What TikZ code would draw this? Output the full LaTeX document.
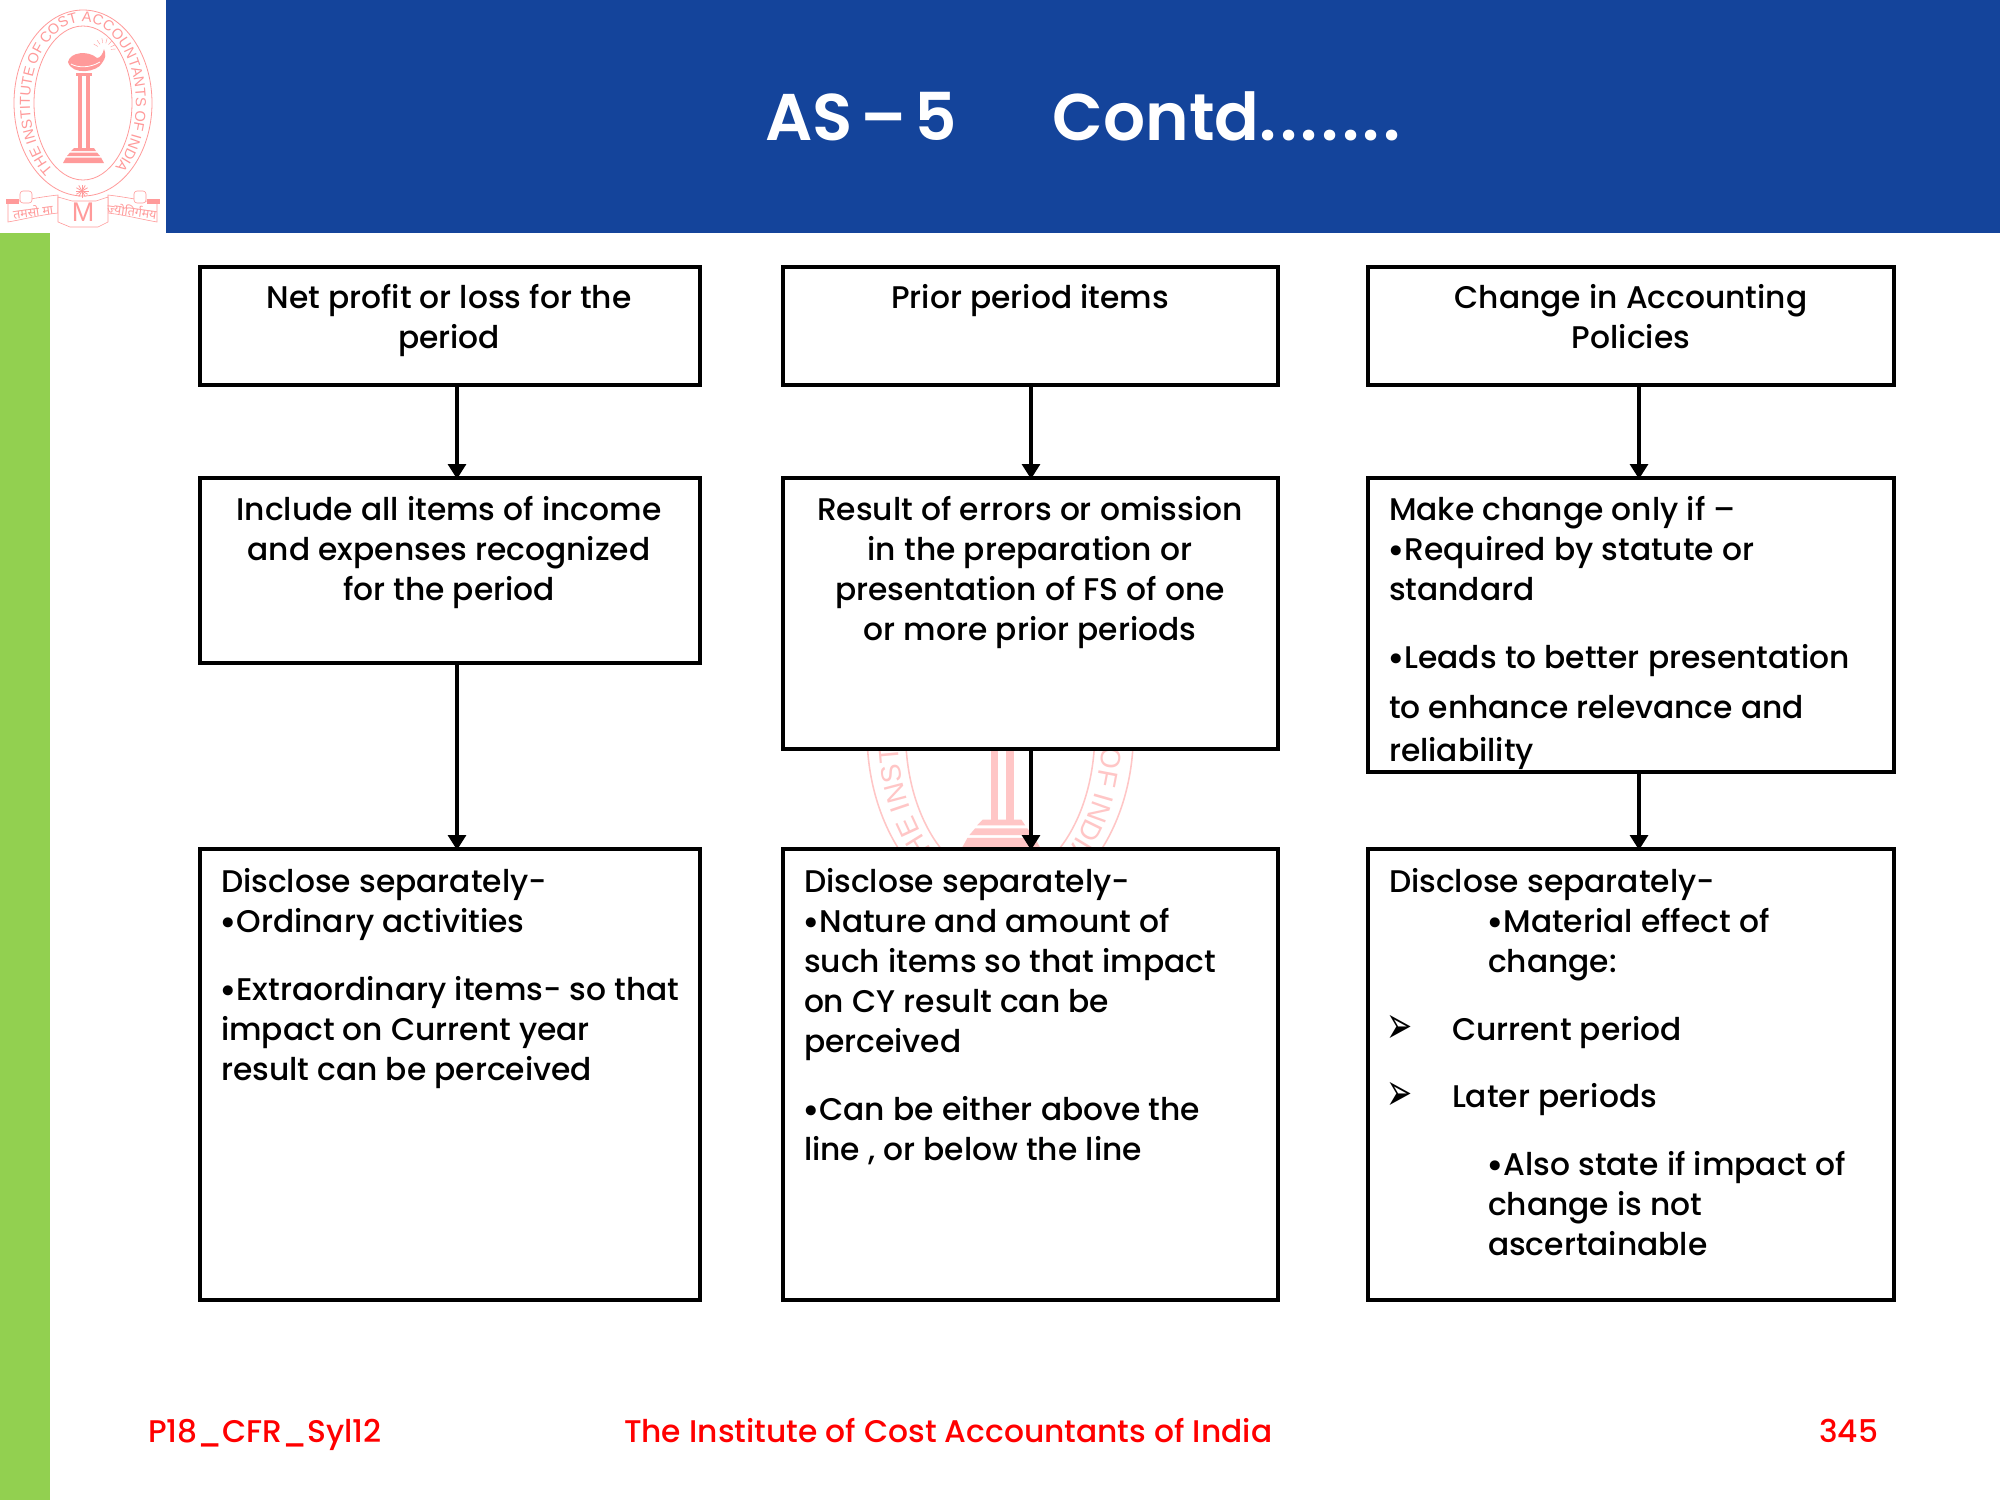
\documentclass[tikz,border=0pt]{standalone}
\usepackage{fontspec}
\usetikzlibrary{arrows.meta}
\setmainfont{Poppins Medium}
\newfontfamily\titlefont{Poppins SemiBold}
\newfontfamily\logosans{Liberation Sans}
\newfontfamily\devfont[Script=Devanagari]{Noto Sans}
\newfontfamily\dejavu{DejaVu Sans}
\definecolor{bluebar}{HTML}{14449B}
\definecolor{greenbar}{HTML}{92D050}
\definecolor{logored}{HTML}{FF9A9A}
\definecolor{wmred}{HTML}{FFC6C6}
\newcommand{\bodyfont}{\fontsize{31.3}{40}\selectfont}
\newcommand{\fl}{\rule{0pt}{28pt}}
\newcommand{\bul}{\makebox[15.5pt][l]{\fontsize{38}{38}\selectfont\raisebox{-3pt}{\hspace*{-2pt}•}}}
\newcommand{\td}{\hspace{3.5pt}.}
\tikzset{
  x=1pt,y=-1pt,
  boxn/.style={draw=black,line width=3.6pt,fill=white,inner sep=0pt,outer sep=0pt},
  arr/.style={line width=3.2pt,-{Triangle[width=18pt,length=15pt]},shorten >=-1pt},
  txt/.style={inner sep=0pt,outer sep=0pt,font=\bodyfont,text=black},
  ctext/.style={txt,anchor=north,align=center},
  ltext/.style={txt,anchor=north west,align=left},
  foot/.style={inner sep=0pt,outer sep=0pt,anchor=base west,text=red,font=\fontsize{31.3}{36}\selectfont},
  glyph/.style={inner sep=0pt,outer sep=0pt,font=\dejavu\fontsize{24}{30}\selectfont},
}
\newcommand{\bx}[5]{\node[boxn,minimum width={#4-#2},minimum height={#5-#3}] (#1) at ({(#2+#4)/2},{(#3+#5)/2}) {};}
\newcommand{\drawlogo}[6]{%
 \begin{scope}[shift={(#2,#3)},scale=#4,transform shape]
  \draw[#5,line width={0.8pt*#4},fill=white] (83,103) ellipse [x radius=69,y radius=93];
  \draw[#5,line width={0.8pt*#4}] (83,103) ellipse [x radius=49,y radius=77];
  \gdef\logoth{124}%
  \foreach \c/\w [count=\i] in {T/611,H/722,E/667,~/240,I/278,N/722,S/667,T/611,I/278,T/611,U/722,T/611,E/667,~/240,O/778,F/611,~/240,C/722,O/778,S/667,T/611,~/240,A/667,C/722,C/722,O/778,U/722,N/722,T/611,A/667,N/722,T/611,S/667,~/240,O/778,F/611,~/240,I/278,N/722,D/722,I/278,A/667}{%
    \pgfmathsetmacro\st{\w*#6/2000}%
    \pgfmathsetmacro\vx{-53*sin(\logoth)}%
    \pgfmathsetmacro\vy{81*cos(\logoth)}%
    \pgfmathsetmacro\nx{\logoth+\st*57.3/sqrt(\vx*\vx+\vy*\vy)}%
    \xdef\logoth{\nx}%
    \pgfmathsetmacro\vx{-53*sin(\logoth)}%
    \pgfmathsetmacro\vy{81*cos(\logoth)}%
    \pgfmathsetmacro\rot{atan2(-\vy,\vx)}%
    \node[inner sep=0pt,anchor=base,text=#5,rotate=\rot,font=\logosans\fontsize{#6}{#6}\selectfont] (logoch#1\i) at ({83+53*cos(\logoth)},{103+81*sin(\logoth)}) {\c};
    \pgfmathsetmacro\nx{\logoth+\st*57.3/sqrt(\vx*\vx+\vy*\vy)}%
    \xdef\logoth{\nx}%
  }
  % lamp
  \fill[#5] (68,62) .. controls (70,52) and (88,50) .. (97,58) .. controls (100,58) and (103,54) .. (104,49)
    .. controls (106,54) and (106,58) .. (102,63) .. controls (98,72) and (72,76) .. (68,62) -- cycle;
  \draw[white,line width=0.8pt] (71,64) .. controls (78,68) and (90,68) .. (100,62);
  \foreach \a in {-150,-125,-100,-75,-50,-25,-5}
    \draw[#5,line width=0.4pt] ({104+7*cos(\a)},{50+7*sin(\a)}) -- ({104+12*cos(\a)},{50+12*sin(\a)});
  % pillar
  \fill[#5] (76,73) rectangle (92,76);
  \fill[#5] (78,76) rectangle (82,148);
  \fill[#5] (86,76) rectangle (90,148);
  \fill[#5] (74,148) -- (94,148) -- (96,151) -- (71,151) -- cycle;
  \fill[#5] (70,152.5) -- (97,152.5) -- (100,156) -- (67,156) -- cycle;
  \fill[#5] (66,157.5) -- (101,157.5) -- (104,163) -- (63,163) -- cycle;
  % star
  \foreach \a in {0,30,...,330}
    \draw[#5,line width=0.8pt] (82,191) -- ++({6.5*cos(\a)},{6.5*sin(\a)});
  % ribbons
  \draw[#5,line width=0.6pt,fill=white] (58,195) .. controls (40,197) and (25,200) .. (8,203) -- (8,222)
    .. controls (25,219) and (40,215) .. (58,213) -- cycle;
  \draw[#5,line width=0.6pt,fill=white] (108,195) .. controls (125,197) and (140,200) .. (157,203) -- (157,222)
    .. controls (140,219) and (125,215) .. (108,213) -- cycle;
  \fill[#5] (6,199) rectangle (19,204);
  \fill[#5] (147,199) rectangle (160,204);
  \draw[#5,line width=0.6pt,fill=white,rounded corners=3pt] (20,191) rectangle (32,203);
  \draw[#5,line width=0.6pt,fill=white,rounded corners=3pt] (134,191) rectangle (146,203);
  \draw[#5,line width=0.6pt,fill=white] (58,197) -- (72,201) -- (96,201) -- (108,197) -- (108,222) -- (98,227) -- (70,227) -- (58,222) -- cycle;
  \node[inner sep=0pt,text=#5,font=\logosans\fontsize{27}{27}\selectfont] (logoM#1) at (83,212) {M};
  \node[inner sep=0pt,text=#5,rotate=8,font=\devfont\fontsize{12.5}{12.5}\selectfont] (logoL#1) at (33,211) {तमसो मा};
  \node[inner sep=0pt,text=#5,rotate=-8,font=\devfont\fontsize{12.5}{12.5}\selectfont] (logoR#1) at (132,211) {ज्योतिर्गमय};
 \end{scope}}
\begin{document}
\begin{tikzpicture}
\useasboundingbox (0,0) rectangle (2000,1500);
\fill[white] (0,0) rectangle (2000,1500);
\fill[bluebar] (166,0) rectangle (2000,233);
\fill[greenbar] (0,233) rectangle (50,1500);
\drawlogo{a}{0}{0}{1}{logored}{14.5}
\drawlogo{b}{840}{534}{1.93}{wmred}{14.5}

\node[inner sep=0pt,anchor=base west,text=white,font=\titlefont\fontsize{66}{70}\selectfont] (title) at (765,140) {AS\hspace{-8pt} – \hspace{-8pt}5\hspace{96pt}Contd.\td\td\td\td\td\td};

\bx{a1}{200}{267}{700}{385}
\bx{a2}{783}{267}{1278}{385}
\bx{a3}{1368}{267}{1894}{385}
\bx{b1}{200}{478}{700}{663}
\bx{b2}{783}{478}{1278}{749}
\bx{b3}{1368}{478}{1894}{772}
\bx{c1}{200}{849}{700}{1300}
\bx{c2}{783}{849}{1278}{1300}
\bx{c3}{1368}{849}{1894}{1300}

\coordinate (xa) at (457,0);
\coordinate (xb) at (1031,0);
\coordinate (xc) at (1639,0);
\draw[arr] (a1.south -| xa) -- (b1.north -| xa);
\draw[arr] (b1.south -| xa) -- (c1.north -| xa);
\draw[arr] (a2.south -| xb) -- (b2.north -| xb);
\draw[arr] (b2.south -| xb) -- (c2.north -| xb);
\draw[arr] (a3.south -| xc) -- (b3.north -| xc);
\draw[arr] (b3.south -| xc) -- (c3.north -| xc);

% row 1
\node[ctext] (ta1) at (449,280) {\fl Net profit or loss for the\\period};
\node[ctext] (ta2) at (1030,280) {\fl Prior period items};
\node[ctext] (ta3) at (1631,280) {\fl Change in Accounting\\Policies};
% row 2
\node[ctext] (tb1) at (449,492) {\fl Include all items of income\\and expenses recognized\\for the period};
\node[ctext] (tb2) at (1030,492) {\fl Result of errors or omission\\in the preparation or\\presentation of FS of one\\or more prior periods};
\node[ltext] (tb3a) at (1389,492) {\fl Make change only if –\\\bul Required by statute or\\standard};
\node[ltext] (tb3b) at (1389,640) {\fl \bul Leads to better presentation};
\node[ltext] (tb3c) at (1389,690) {\fl to enhance relevance and};
\node[ltext] (tb3d) at (1389,733) {\fl reliability};
% row 3 col 1
\node[ltext] (tc1a) at (221,864) {\fl Disclose separately-\\\bul Ordinary activities};
\node[ltext] (tc1b) at (221,972) {\fl \bul Extraordinary items- so that\\impact on Current year\\result can be perceived};
% row 3 col 2
\node[ltext] (tc2a) at (804,864) {\fl Disclose separately-\\\bul Nature and amount of\\such items so that impact\\on CY result can be\\perceived};
\node[ltext] (tc2b) at (804,1092) {\fl \bul Can be either above the\\line , or below the line};
% row 3 col 3
\node[ltext] (tc3a) at (1389,864) {\fl Disclose separately-};
\node[ltext] (tc3b) at (1488,904) {\fl \bul Material effect of\\change:};
\node[glyph] (ar1) at (1400,1029) {\scalebox{1.3}[2.2]{➢}};
\node[ltext] (tc3c) at (1452,1012) {\fl Current period};
\node[glyph] (ar2) at (1400,1096) {\scalebox{1.3}[2.2]{➢}};
\node[ltext] (tc3d) at (1452,1079) {\fl Later periods};
\node[ltext] (tc3e) at (1488,1147) {\fl \bul Also state if impact of\\change is not\\ascertainable};

% footer
\node[foot] (f1) at (148,1442) {P18\_CFR\_Syl12};
\node[foot] (f2) at (624,1442) {The Institute of Cost Accountants of India};
\node[foot,anchor=base east] (f3) at (1878,1442) {345};
\end{tikzpicture}
\end{document}
